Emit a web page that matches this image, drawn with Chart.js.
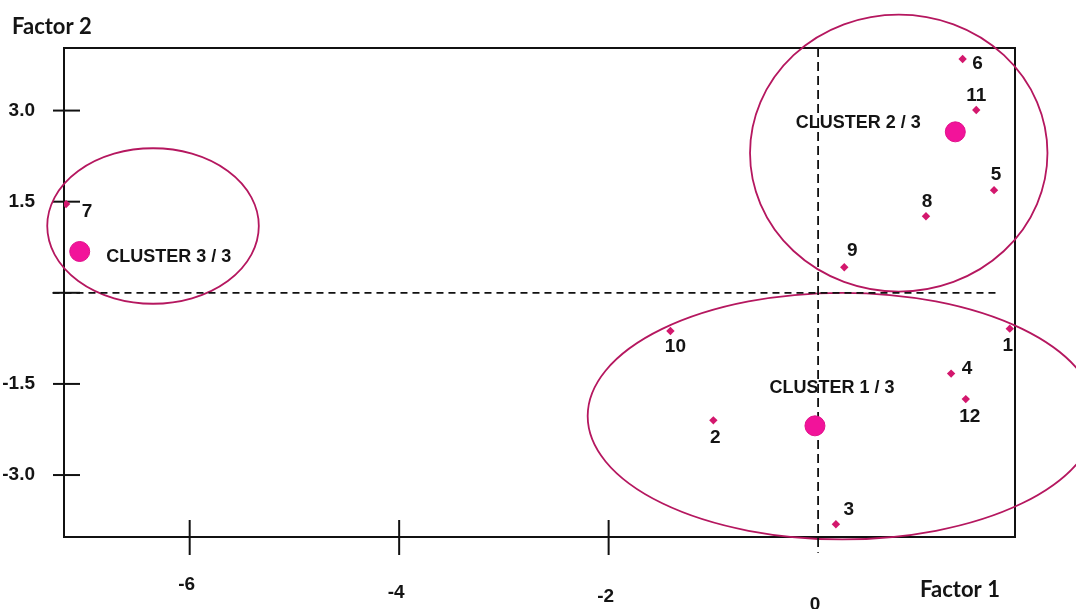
<!DOCTYPE html>
<html>
<head>
<meta charset="utf-8">
<title>Clusters</title>
<script src="https://cdn.jsdelivr.net/npm/chart.js@4.4.1/dist/chart.umd.min.js"></script>
<style>
    html, body { margin: 0; padding: 0; background: #fff; }
    #wrap { width: 1076px; height: 609px; }
</style>
</head>
<body>
<div id="wrap"><canvas id="chart" width="1076" height="609"></canvas></div>
<script>
/**
 * Наблюдения: номер и координаты по двум факторам.
 */
const OBS_NAMES = ['1', '2', '3', '4', '5', '6', '7', '8', '9', '10', '11', '12'];
const OBS_FACTOR1 = [1.83, -1.00, 0.17, 1.27, 1.68, 1.38, -7.18, 1.03, 0.25, -1.41, 1.51, 1.41];
const OBS_FACTOR2 = [-0.59, -2.10, -3.81, -1.33, 1.69, 3.85, 1.46, 1.26, 0.42, -0.63, 3.01, -1.75];

/**
 * Центры кластеров.
 */
const CLUSTER_NAMES = ['CLUSTER 1 / 3', 'CLUSTER 2 / 3', 'CLUSTER 3 / 3'];
const CLUSTER_FACTOR1 = [-0.03, 1.31, -7.05];
const CLUSTER_FACTOR2 = [-2.19, 2.65, 0.68];

/**
 * Эллипсы вокруг кластеров (центр и полуоси в единицах факторов).
 */
const ELLIPSE_FACTOR1 = [0.23, 0.77, -6.35];
const ELLIPSE_FACTOR2 = [-2.03, 2.30, 1.10];
const ELLIPSE_RADIUS1 = [2.43, 1.42, 1.01];
const ELLIPSE_RADIUS2 = [2.03, 2.28, 1.28];

/**
 * Оси.
 */
const X_TICKS = [-6, -4, -2, 0];
const Y_TICKS = [3, 1.5, -1.5, -3];
const X_RANGE = [-7.2, 1.88];
const Y_RANGE = [-4.02, 4.03];
const ZERO_LINE_X = [-7.31, 1.71];
const ZERO_LINE_Y = [4.03, -4.28];

const POINT_COLOR = '#d3176d';
const CENTER_COLOR = '#f2139a';
const ELLIPSE_COLOR = '#b5175f';
const TEXT_COLOR = '#141414';
const FONT = '"Liberation Sans", Arial, sans-serif';

/**
 * Сдвиги подписей относительно точек (в пикселях).
 */
const LABEL_SHIFT = [[-2, 17], [2, 17], [13, -14], [16, -5], [2, -15], [15, 5], [21, 8], [1, -14], [8, -17], [5, 16], [0, -14], [4, 18]];
const CLUSTER_SHIFT = [[17, -38], [-97, -9], [89, 6]];
const X_LABEL_DROP = [48, 56, 60, 68];

const onDOMLoaded = () => {
    const CHART = document.getElementById('chart').getContext('2d');

    const strokeLine = (ctx, x1, y1, x2, y2) => {
        ctx.beginPath();
        ctx.moveTo(x1, y1);
        ctx.lineTo(x2, y2);
        ctx.stroke();
    };

    /**
     * Рамка, засечки, эллипсы и подписи рисуем плагином поверх шкал Chart.js.
     */
    const decorPlugin = {
        id: 'decor',
        beforeDatasetsDraw(chart) {
            const {ctx, chartArea: a, scales: {x, y}} = chart;
            ctx.save();

            ctx.strokeStyle = '#111';
            ctx.lineWidth = 2;
            ctx.strokeRect(a.left, a.top, a.right - a.left, a.bottom - a.top);

            [...Y_TICKS, 0].forEach((v) => {
                const py = y.getPixelForValue(v);
                strokeLine(ctx, a.left - 11, py, a.left + 16, py);
            });
            X_TICKS.filter((v) => v !== 0).forEach((v) => {
                const px = x.getPixelForValue(v);
                strokeLine(ctx, px, a.bottom - 17, px, a.bottom + 18);
            });

            ctx.strokeStyle = ELLIPSE_COLOR;
            ctx.lineWidth = 1.8;
            ELLIPSE_FACTOR1.forEach((cx, i) => {
                const cy = ELLIPSE_FACTOR2[i];
                const px = x.getPixelForValue(cx);
                const py = y.getPixelForValue(cy);
                const rx = Math.abs(x.getPixelForValue(cx + ELLIPSE_RADIUS1[i]) - px);
                const ry = Math.abs(y.getPixelForValue(cy + ELLIPSE_RADIUS2[i]) - py);
                ctx.beginPath();
                ctx.ellipse(px, py, rx, ry, 0, 0, Math.PI * 2);
                ctx.stroke();
            });

            ctx.restore();
        },
        afterDatasetsDraw(chart) {
            const {ctx, chartArea: a, scales: {x}} = chart;
            ctx.save();
            ctx.fillStyle = TEXT_COLOR;
            ctx.textAlign = 'center';
            ctx.textBaseline = 'middle';

            ctx.font = 'bold 19px ' + FONT;
            chart.getDatasetMeta(0).data.forEach((pt, i) => {
                ctx.fillText(OBS_NAMES[i], pt.x + LABEL_SHIFT[i][0], pt.y + LABEL_SHIFT[i][1]);
            });

            ctx.font = 'bold 18px ' + FONT;
            chart.getDatasetMeta(1).data.forEach((pt, i) => {
                ctx.fillText(CLUSTER_NAMES[i], pt.x + CLUSTER_SHIFT[i][0], pt.y + CLUSTER_SHIFT[i][1]);
            });

            ctx.font = 'bold 19px ' + FONT;
            X_TICKS.forEach((v, i) => {
                ctx.fillText(String(v), x.getPixelForValue(v) - 3, a.bottom + X_LABEL_DROP[i]);
            });

            ctx.font = 'bold 22px Lato, ' + FONT;
            ctx.fillText('Factor 1', 960, 590);
            ctx.textAlign = 'left';
            ctx.fillText('Factor 2', 12, 27);

            ctx.restore();
        }
    };

    new Chart(CHART, {
        type: 'scatter',
        data: {
            datasets: [
                {
                    data: OBS_FACTOR1.map((v, i) => ({x: v, y: OBS_FACTOR2[i]})),
                    pointStyle: 'rectRot',
                    pointRadius: 4.2,
                    backgroundColor: POINT_COLOR,
                    borderColor: POINT_COLOR,
                    borderWidth: 0
                },
                {
                    data: CLUSTER_FACTOR1.map((v, i) => ({x: v, y: CLUSTER_FACTOR2[i]})),
                    pointRadius: 10,
                    backgroundColor: CENTER_COLOR,
                    borderColor: '#e0108a',
                    borderWidth: 1
                },
                {
                    type: 'line',
                    data: ZERO_LINE_X.map((v) => ({x: v, y: 0})),
                    borderColor: '#111',
                    borderWidth: 1.8,
                    borderDash: [7, 5],
                    pointRadius: 0,
                    clip: false
                },
                {
                    type: 'line',
                    data: ZERO_LINE_Y.map((v) => ({x: 0, y: v})),
                    borderColor: '#111',
                    borderWidth: 1.8,
                    borderDash: [9, 5],
                    pointRadius: 0,
                    clip: false
                }
            ]
        },
        options: {
            responsive: false,
            animation: false,
            devicePixelRatio: 1,
            layout: {padding: {top: 48, right: 61, bottom: 72, left: 0}},
            plugins: {
                legend: {display: false},
                tooltip: {enabled: false}
            },
            scales: {
                x: {
                    type: 'linear',
                    display: false,
                    min: X_RANGE[0],
                    max: X_RANGE[1]
                },
                y: {
                    type: 'linear',
                    min: Y_RANGE[0],
                    max: Y_RANGE[1],
                    grid: {display: false},
                    border: {display: false},
                    afterBuildTicks: (scale) => {
                        scale.ticks = Y_TICKS.map((value) => ({value}));
                    },
                    afterFit: (scale) => {
                        scale.width = 64;
                    },
                    ticks: {
                        padding: 21,
                        color: TEXT_COLOR,
                        font: {family: FONT, size: 19, weight: 'bold'},
                        callback: (v) => Number(v).toFixed(1)
                    }
                }
            }
        },
        plugins: [decorPlugin]
    });
};

document.addEventListener('DOMContentLoaded', onDOMLoaded);
</script>
</body>
</html>
